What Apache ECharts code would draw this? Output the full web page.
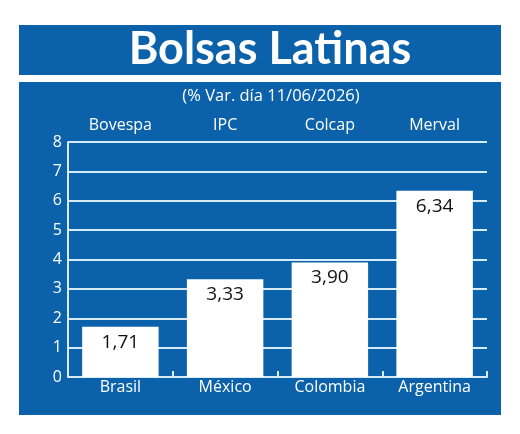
<!DOCTYPE html>
<html><head><meta charset="utf-8">
<script src="https://cdn.jsdelivr.net/npm/echarts@6/dist/echarts.min.js"></script>
<style>html,body{margin:0;padding:0;background:#fff}#c{width:520px;height:434px}</style>
</head><body><div id="c"></div>
<script>
const countries = ['Brasil', 'México', 'Colombia', 'Argentina'];
const indices = ['Bovespa', 'IPC', 'Colcap', 'Merval'];
const values = [1.71, 3.33, 3.90, 6.34];
const yTicks = { min: 0, max: 8, interval: 1 };

const BLUE = '#0b62aa';
const LINE = '#d6ecf8';
const FONT = '"Open Sans", "Noto Sans", sans-serif';

const chart = echarts.init(document.getElementById('c'), null, { renderer: 'canvas' });
chart.setOption({
  animation: false,
  backgroundColor: '#fff',
  graphic: [
    { type: 'rect', shape: { x: 19, y: 25, width: 482, height: 50 }, style: { fill: BLUE }, z: -10 },
    { type: 'rect', shape: { x: 19, y: 82, width: 482, height: 333 }, style: { fill: BLUE }, z: -10 },
    { type: 'text', x: 270, y: 49, style: { text: 'Bolsas Latinas', fill: '#fff', font: 'bold 45px Lato, ' + FONT, textAlign: 'center', textVerticalAlign: 'middle' } },
    { type: 'text', x: 271, y: 96, style: { text: '(% Var. día 11/06/2026)', fill: '#fff', font: '16.5px ' + FONT, textAlign: 'center', textVerticalAlign: 'middle' } }
  ],
  grid: { left: 68, right: 33, top: 142, bottom: 57, containLabel: false },
  xAxis: [
    {
      type: 'category', data: countries, position: 'bottom',
      axisLine: { show: true, lineStyle: { color: LINE, width: 2 } },
      axisTick: { show: true, inside: true, length: 6, lineStyle: { color: LINE, width: 2 } },
      axisLabel: { color: '#fff', fontSize: 16, fontFamily: FONT, margin: 2 }
    },
    {
      type: 'category', data: indices, position: 'top',
      axisLine: { show: false }, axisTick: { show: false },
      axisLabel: { color: '#fff', fontSize: 16, fontFamily: FONT, margin: 9 }
    }
  ],
  yAxis: {
    type: 'value', min: yTicks.min, max: yTicks.max, interval: yTicks.interval,
    axisLine: { show: true, lineStyle: { color: LINE, width: 2 } },
    axisTick: { show: false },
    axisLabel: { color: '#fff', fontSize: 16, fontFamily: FONT, margin: 6 },
    splitLine: { show: true, lineStyle: { color: LINE, width: 2 } }
  },
  series: [{
    type: 'bar', data: values, barWidth: '73%', xAxisIndex: 0,
    itemStyle: { color: '#fff' },
    label: {
      show: true, position: 'insideTop', distance: 6, color: '#111', fontSize: 19, fontFamily: FONT,
      formatter: p => p.value.toFixed(2).replace('.', ',')
    }
  }]
});
</script></body></html>
